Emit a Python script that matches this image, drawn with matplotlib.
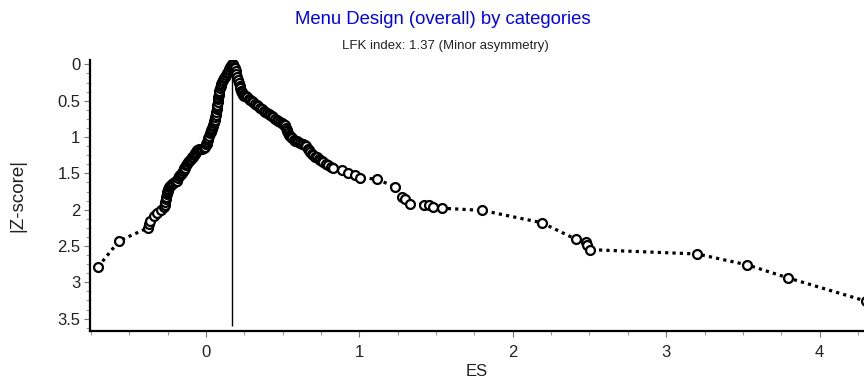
import matplotlib
matplotlib.use("Agg")
import matplotlib.pyplot as plt
import numpy as np
from matplotlib.ticker import MultipleLocator

plt.rcParams['font.family'] = ['Liberation Sans', 'DejaVu Sans']

title = "Menu Design (overall) by categories"
subtitle = "LFK index: 1.37 (Minor asymmetry)"
x_label = "ES"
y_label = "|Z-score|"

es = [
    -0.705, -0.568, -0.378, -0.372, -0.365, -0.342, -0.320, -0.296, -0.274, -0.270,
    -0.267, -0.264, -0.261, -0.257, -0.254, -0.248, -0.241, -0.232, -0.222, -0.205,
    -0.189, -0.182, -0.176, -0.166, -0.157, -0.147, -0.137, -0.128, -0.117, -0.104,
    -0.091, -0.080, -0.070, -0.059, -0.045, -0.026, -0.007, 0.002, 0.007, 0.015,
    0.026, 0.033, 0.040, 0.046, 0.052, 0.059, 0.065, 0.072, 0.075, 0.078,
    0.084, 0.091, 0.100, 0.111, 0.124, 0.137, 0.147, 0.157, 0.163, 0.170,
    0.178, 0.189, 0.198, 0.209, 0.220, 0.228, 0.235, 0.250, 0.267, 0.287,
    0.307, 0.330, 0.352, 0.375, 0.398, 0.418, 0.437, 0.460, 0.483, 0.500,
    0.515, 0.525, 0.535, 0.548, 0.561, 0.580, 0.600, 0.623, 0.646, 0.662,
    0.678, 0.700, 0.724, 0.743, 0.763, 0.796, 0.828, 0.887, 0.926, 0.972,
    1.004, 1.115, 1.233, 1.279, 1.298, 1.331, 1.422, 1.455, 1.481, 1.539,
    1.800, 2.190, 2.414, 2.479, 2.485, 2.505, 3.203, 3.529, 3.796, 4.305,
    -0.250, -0.236, -0.214, -0.196, -0.171, -0.152, -0.142, -0.122, -0.110, -0.097,
    -0.085, -0.075, -0.064, -0.052, -0.036, -0.016, 0.004, 0.011, 0.020, 0.030,
    0.037, 0.043, 0.049, 0.055, 0.062, 0.068, 0.074, 0.077, 0.081, 0.087,
    0.095, 0.105, 0.117, 0.130, 0.142, 0.152, 0.160, 0.166,
    0.174, 0.183, 0.193, 0.203, 0.214, 0.224, 0.231, 0.242, 0.258, 0.277,
    0.297, 0.318, 0.341, 0.363, 0.386, 0.408, 0.427, 0.448, 0.471, 0.492,
    0.508, 0.520, 0.530, 0.541, 0.554, 0.570, 0.590, 0.612, 0.634, 0.654,
    0.670, 0.689, 0.712, 0.733, 0.753, 0.780, 0.812,
]
zscore = [
    2.79, 2.43, 2.25, 2.20, 2.15, 2.09, 2.05, 2.01, 1.97, 1.93,
    1.90, 1.86, 1.83, 1.79, 1.76, 1.72, 1.69, 1.66, 1.64, 1.62,
    1.60, 1.56, 1.53, 1.51, 1.49, 1.45, 1.42, 1.39, 1.35, 1.31,
    1.28, 1.25, 1.22, 1.18, 1.17, 1.16, 1.14, 1.10, 1.07, 1.01,
    0.95, 0.91, 0.87, 0.84, 0.78, 0.73, 0.66, 0.59, 0.52, 0.45,
    0.39, 0.33, 0.27, 0.22, 0.17, 0.12, 0.08, 0.04, 0.02, 0.00,
    0.01, 0.05, 0.13, 0.22, 0.30, 0.36, 0.40, 0.43, 0.45, 0.49,
    0.52, 0.56, 0.60, 0.64, 0.67, 0.70, 0.73, 0.77, 0.80, 0.82,
    0.84, 0.90, 0.95, 0.99, 1.02, 1.05, 1.07, 1.09, 1.11, 1.16,
    1.21, 1.25, 1.28, 1.32, 1.35, 1.39, 1.43, 1.46, 1.50, 1.52,
    1.56, 1.58, 1.69, 1.82, 1.85, 1.92, 1.93, 1.94, 1.97, 1.98,
    2.01, 2.18, 2.41, 2.44, 2.48, 2.55, 2.61, 2.76, 2.94, 3.26,
    1.74, 1.67, 1.63, 1.61, 1.52, 1.47, 1.43, 1.37, 1.33, 1.30,
    1.27, 1.23, 1.20, 1.18, 1.17, 1.15, 1.09, 1.04, 0.98, 0.93,
    0.89, 0.85, 0.81, 0.76, 0.70, 0.62, 0.56, 0.48, 0.42, 0.36,
    0.30, 0.24, 0.19, 0.14, 0.10, 0.06, 0.03, 0.01,
    0.00, 0.03, 0.09, 0.17, 0.26, 0.33, 0.38, 0.42, 0.44, 0.47,
    0.50, 0.54, 0.58, 0.62, 0.65, 0.69, 0.71, 0.75, 0.78, 0.81,
    0.83, 0.87, 0.92, 0.97, 1.00, 1.04, 1.06, 1.08, 1.10, 1.13,
    1.18, 1.23, 1.27, 1.30, 1.33, 1.37, 1.41,
]
peak_es = 0.17
x_ticks = [0, 1, 2, 3, 4]
y_ticks = [0, 0.5, 1, 1.5, 2, 2.5, 3, 3.5]

order = np.argsort(es, kind='stable')
xs = np.asarray(es)[order]
ys = np.asarray(zscore)[order]

fig = plt.figure(figsize=(8.64, 3.82), dpi=100)
ax = fig.add_axes([90 / 864, 1 - 331 / 382, 1 - 90 / 864, (331 - 60) / 382])

ax.vlines(peak_es, 0, 3.6, color='black', lw=1.0, zorder=1)
ax.plot(xs, ys, color='black', lw=2.3, linestyle=(0, (1, 1.3)),
        dash_capstyle='butt', zorder=2)
ax.plot(xs, ys, linestyle='none', marker='o', ms=6.4, mfc='white',
        mec='black', mew=1.6, zorder=3)

ax.set_xlim(-0.757, 4.29)
ax.set_ylim(3.67, -0.06)
ax.set_xticks(x_ticks)
ax.set_xticklabels([str(t) for t in x_ticks])
ax.set_yticks(y_ticks)
ax.set_yticklabels([f"{t:g}" for t in y_ticks])
ax.xaxis.set_minor_locator(MultipleLocator(0.25))
ax.yaxis.set_minor_locator(MultipleLocator(0.125))

for s in ['top', 'right']:
    ax.spines[s].set_visible(False)
for s in ['left', 'bottom']:
    ax.spines[s].set_linewidth(1.6)
    ax.spines[s].set_color('black')

ax.tick_params(which='major', length=4, width=0.8, color='#777777',
               labelsize=12, pad=3, labelcolor='#222222')
ax.tick_params(axis='x', which='major', pad=6)
ax.tick_params(which='minor', length=3, width=0.8, color='#999999')

ax.set_xlabel(x_label, fontsize=12, color='#222222', labelpad=3)
ax.set_ylabel(y_label, fontsize=13.5, color='#222222', labelpad=22)

fig.text(0.513, 0.948, title, color='#0000ff', fontsize=13.3, ha='center', va='center')
fig.text(0.515, 0.88, subtitle, color='#222222', fontsize=9.5, ha='center', va='center')

fig.savefig('out.png', dpi=100)
